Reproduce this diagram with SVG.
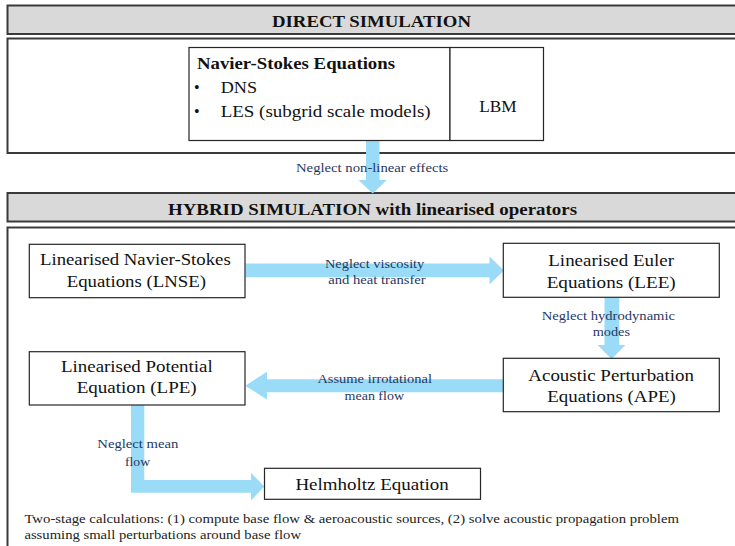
<svg xmlns="http://www.w3.org/2000/svg" width="735" height="546" viewBox="0 0 735 546">
<style>
.hdr{fill:#d9d9d9;stroke:#3a3a3a;stroke-width:2}
.sec{fill:#ffffff;stroke:#3a3a3a;stroke-width:2}
.box{fill:#ffffff;stroke:#262626;stroke-width:1.2}
.arr{fill:#9adcf7}
.ht{font-size:17.5px;font-weight:bold;fill:#111}
.nt{font-size:16px;fill:#111}
.bt{font-size:16px;font-weight:bold;fill:#111}
.lb{font-size:13px;fill:#1f3864}
.ft{font-size:13.5px;fill:#222}
</style>
<rect width="735" height="546" fill="#ffffff"/>
<g font-family="'Liberation Serif', 'Times New Roman', Times, serif">
<g id="direct-section">
<rect class="hdr" x="7.5" y="5.5" width="740" height="28.5"/>
<text class="ht" x="272" y="26.7" textLength="199" lengthAdjust="spacingAndGlyphs">DIRECT SIMULATION</text>
<rect class="sec" x="7.5" y="38.5" width="740" height="114.5"/>
</g>
<g id="hybrid-section">
<rect class="hdr" x="7.5" y="193" width="740" height="28.5"/>
<text class="ht" x="168" y="215" textLength="409" lengthAdjust="spacingAndGlyphs">HYBRID SIMULATION with linearised operators</text>
<rect class="sec" x="7.5" y="227.5" width="740" height="330"/>
</g>
<g id="connectors">
<polygon class="arr" points="366,140.5 379.5,140.5 379.5,180 387,180 372.7,193.5 358.5,180 366,180"/>
<polygon class="arr" points="245.5,263.5 489.5,263.5 489.5,256.5 504,270.5 489.5,284.3 489.5,277.3 245.5,277.3"/>
<polygon class="arr" points="604.5,297.5 619.3,297.5 619.3,345 625.5,345 611.5,359 597.5,345 604.5,345"/>
<polygon class="arr" points="503,379.3 267,379.3 267,371.7 245.3,385.7 267,399.5 267,392.3 503,392.3"/>
<polygon class="arr" points="131,405 144.3,405 144.3,480 251,480 251,472.7 264.3,486.5 251,500.5 251,492.7 131,492.7"/>
</g>
<g id="ns-box">
<rect class="box" x="189" y="47.5" width="261" height="93"/>
<text class="bt" x="197" y="69.3" textLength="198" lengthAdjust="spacingAndGlyphs">Navier-Stokes Equations</text>
<text class="nt" x="194" y="93.3">•</text>
<text class="nt" x="220.7" y="93.3" textLength="36.3" lengthAdjust="spacingAndGlyphs">DNS</text>
<text class="nt" x="194" y="117.3">•</text>
<text class="nt" x="220.7" y="117.3" textLength="210" lengthAdjust="spacingAndGlyphs">LES (subgrid scale models)</text>
</g>
<g id="lbm-box">
<rect class="box" x="450" y="47.5" width="93.5" height="93"/>
<text class="nt" x="479.3" y="111.7" textLength="37.4" lengthAdjust="spacingAndGlyphs">LBM</text>
</g>
<g id="lnse">
<rect class="box" x="29.3" y="244.3" width="215.7" height="53.4"/>
<text class="nt" x="40" y="265" textLength="190.7" lengthAdjust="spacingAndGlyphs">Linearised Navier-Stokes</text>
<text class="nt" x="66.7" y="286.7" textLength="139.3" lengthAdjust="spacingAndGlyphs">Equations (LNSE)</text>
</g>
<g id="lee">
<rect class="box" x="503.3" y="243.3" width="216" height="54"/>
<text class="nt" x="548.3" y="265.7" textLength="125.7" lengthAdjust="spacingAndGlyphs">Linearised Euler</text>
<text class="nt" x="546.7" y="288.3" textLength="129" lengthAdjust="spacingAndGlyphs">Equations (LEE)</text>
</g>
<g id="ape">
<rect class="box" x="503.3" y="358.3" width="216" height="53.4"/>
<text class="nt" x="528.3" y="380.7" textLength="165.7" lengthAdjust="spacingAndGlyphs">Acoustic Perturbation</text>
<text class="nt" x="547.3" y="401.7" textLength="128.4" lengthAdjust="spacingAndGlyphs">Equations (APE)</text>
</g>
<g id="lpe">
<rect class="box" x="29.3" y="351.7" width="215.7" height="53.3"/>
<text class="nt" x="61" y="372.3" textLength="151.7" lengthAdjust="spacingAndGlyphs">Linearised Potential</text>
<text class="nt" x="76.7" y="393.3" textLength="120" lengthAdjust="spacingAndGlyphs">Equation (LPE)</text>
</g>
<g id="helmholtz">
<rect class="box" x="264.5" y="468.3" width="216" height="31"/>
<text class="nt" x="295.4" y="490" textLength="153.3" lengthAdjust="spacingAndGlyphs">Helmholtz Equation</text>
</g>
<g id="labels">
<text class="lb" x="296" y="171.7" textLength="152.3" lengthAdjust="spacingAndGlyphs">Neglect non-linear effects</text>
<text class="lb" x="325" y="267.7" textLength="99.3" lengthAdjust="spacingAndGlyphs">Neglect viscosity</text>
<text class="lb" x="328.3" y="284.3" textLength="97.4" lengthAdjust="spacingAndGlyphs">and heat transfer</text>
<text class="lb" x="541.7" y="320" textLength="133.3" lengthAdjust="spacingAndGlyphs">Neglect hydrodynamic</text>
<text class="lb" x="592.7" y="336" textLength="37.3" lengthAdjust="spacingAndGlyphs">modes</text>
<text class="lb" x="317.4" y="382.7" textLength="114.6" lengthAdjust="spacingAndGlyphs">Assume irrotational</text>
<text class="lb" x="344.6" y="400" textLength="59.4" lengthAdjust="spacingAndGlyphs">mean flow</text>
<text class="lb" x="97.3" y="448.3" textLength="81" lengthAdjust="spacingAndGlyphs">Neglect mean</text>
<text class="lb" x="125" y="465.5" textLength="25" lengthAdjust="spacingAndGlyphs">flow</text>
</g>
<g id="footer">
<text class="ft" x="24.4" y="522.7" textLength="654.6" lengthAdjust="spacingAndGlyphs">Two-stage calculations: (1) compute base flow &amp; aeroacoustic sources, (2) solve acoustic propagation problem</text>
<text class="ft" x="24.4" y="539.3" textLength="276.6" lengthAdjust="spacingAndGlyphs">assuming small perturbations around base flow</text>
</g>
</g>
</svg>
